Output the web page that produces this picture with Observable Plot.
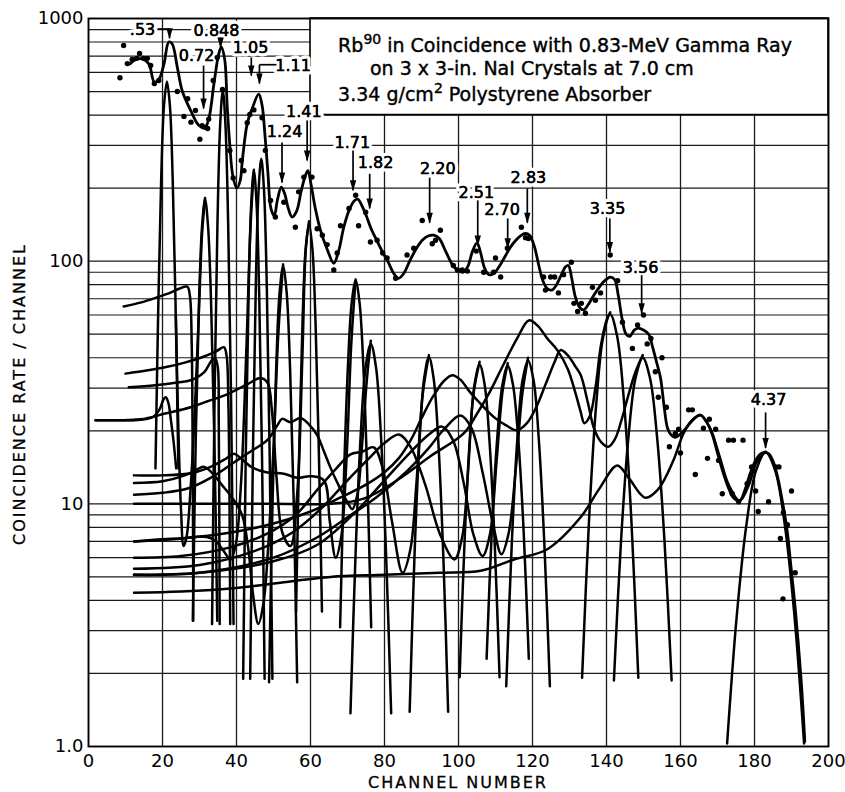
<!DOCTYPE html>
<html><head><meta charset="utf-8">
<script src="https://cdn.jsdelivr.net/npm/d3@7"></script>
<script src="https://cdn.jsdelivr.net/npm/@observablehq/plot@0.6"></script>
<style>
html,body{margin:0;padding:0;background:#fff;}
#chart{width:845px;height:792px;}
</style></head><body><div id="chart"></div>
<script>
// ---------- axes / grid ----------
const xTicks = [0, 20, 40, 60, 80, 100, 120, 140, 160, 180, 200];
const xGrid = [20, 40, 60, 80, 100, 120, 140, 160, 180];
const yTicks = [1, 10, 100, 1000];
const yTickText = ["1.0", "10", "100", "1000"];
const yGrid = [1,2,3,4,5,6,7,8,9,10,20,30,40,50,60,70,80,90,100,200,300,400,500,600,700,800,900,1000];

// ---------- measured points (channel, coincidence rate) ----------
const measured = [[8.5,570],[9.5,774],[10.5,652],[11.8,678],[13.0,685],[13.8,718],[14.9,685],[15.9,685],[16.8,640],[17.8,540],[19.0,555],
[24.0,500],[25.8,395],[26.8,467],[27.7,374],[28.9,418],[30.1,318],[30.7,362],[31.6,356],[32.2,352],[32.5,385],[33.7,555],[34.8,691],
[36.2,510],[38.2,286],[39.1,220],[41.3,260],[42.0,236],[42.9,372],[43.6,402],[44.7,420],[46.9,390],[47.8,286],[49.2,178],[50.5,152],
[52.8,175],[55.9,138],[56.8,193],[58.2,222],[60.4,222],[61.8,136],[63.2,128],[64.5,117],[66.3,92],[67.2,108],[68.1,140],[70.4,165],[72.2,187],[73,140],[74.9,159],[76.2,120],[78,122],[79.5,108],[80.7,103],[83,85],[86.1,106],[87.9,113],[90.2,147],[92.9,118],[93.8,122],[95.1,134],[98.6,96],[99.7,92],[101,92],[102.4,91],[104.8,110],[106.8,90],[109.5,90],[110,103],[111.4,86],[113.2,113],[117,138],[118.1,125],[118.9,124],[123,86],[123.5,76],[124.9,86],[126,86],[127,74],[128.4,88],[130.5,99],[131.2,67],[132.2,62],[133.2,67],[134.3,61],[136.2,78],[137,69],[138.4,74],[141,106],[143,83],[144.3,56],[147,43.7],[148.4,54.6],[150,60],[151,45.6],[152,48],[153.2,35],[154,27.5],[155,40],[156.2,25],[157,17.2],[158.6,19.5],[159.5,20.3],[160,16.2],[162.2,24.4],[163.2,24.4],[164,13.2],[166.2,20.5],[167.3,15.4],[167.8,22.3],[169.5,20.3],[170.3,15.1],[171.3,11],[173,18.3],[174.3,18.3],[176.9,18.3],[174,11],[175.7,10.2],[178,12.1],[179.2,14.2],[180.3,11.3],[181,9.3],[183.8,10.2],[185.7,14.2],[186.6,14.2],[187.8,9.2],[188.9,8.2],[187,7.2],[190,11.3],[191,5.2],[187.7,4.06]];

// ---------- fitted total spectrum ----------
const fitted = [[11.2,650],[12.7,676],[14.5,682],[16.3,650],[17.8,547],[19,560],[20.4,650],[21.7,800],[22.6,787],[24,630],[25.3,505],[27.6,418],[29.8,363],[31.4,354],[32.5,385],[33.9,538],[35.2,715],[35.9,762],[36.8,680],[37.5,430],[38.2,300],[39,225],[40.1,200],[41,215],[41.6,262],[42.9,369],[44.2,424],[46,488],[46.9,440],[47.7,330],[48.5,230],[49.3,165],[50.2,154],[51.1,180],[52.1,202],[53,190],[54,165],[55,152],[56.2,160],[57.5,195],[58.6,225],[59.3,236],[60.2,205],[61.3,165],[62.7,134],[64.5,112],[66.3,98],[67.6,110],[69,138],[70.5,163],[71.8,177],[72.8,180],[74,168],[75,155],[76.3,137],[78,121],[79.5,109],[81,99],[82.5,89],[83.8,85],[85.2,89],[86.8,100],[88.5,112],[90.2,122],[91.8,127],[93.3,128],[94.8,124],[96.5,110],[98.3,97],[99.7,92],[101.2,90],[102.5,95],[103.8,110],[105,119],[106,108],[107,94],[108.2,88],[109.5,89],[111,95],[112.5,104],[114,114],[115.5,122],[117,128],[118,130],[119.2,128],[120.5,115],[121.7,96],[122.8,83],[124,77],[125.2,76],[126.5,80],[127.8,88],[129,95],[129.7,96],[130.6,85],[131.5,72],[132.6,65],[133.8,63],[135,66],[136.5,72],[138,78],[139.5,83],[141,86],[142.2,84],[143.2,72],[144.2,58],[145.3,50],[146.3,49],[147.5,52],[148.6,53],[150,52],[151.4,50],[152.5,44],[153.6,38],[154.6,33],[155.6,25],[156.5,20.5],[157.5,19.2],[158.6,18.8],[160,19.4],[161.5,20.5],[163.5,22.3],[165.4,23.2],[167,21.8],[168.5,19.5],[170,16.2],[171.5,13.5],[173,11.6],[174.3,10.6],[176,10.3],[177.5,11.5],[178.8,13.3],[180.2,15],[181.5,16],[182.6,16.3],[183.8,16.1],[185,15],[186.3,12.8],[187.5,10.3],[188.8,7.8],[189.7,5.8],[190.8,4.0],[191.8,2.7],[192.8,1.7],[193.6,1.05]];

// ---------- photopeak components ----------
const peak053 = [[18.1,14],[18.9,70],[19.65,220],[20.4,437],[21.2,550],[22.0,437],[22.75,220],[23.5,70],[24.3,14]];
const peak072 = [[28.2,3.3],[29.0,19],[29.85,66],[30.7,140],[31.5,180],[32.3,140],[33.15,66],[34.0,19],[34.8,3.3]];
const peak0848 = [[33.4,3.2],[34.1,29.4],[34.85,142],[35.6,368],[36.3,505],[37.0,368],[37.75,142],[38.5,29.4],[39.2,3.2]];
const peak105 = [[41.8,1.9],[42.5,15.7],[43.25,70.7],[44.0,175],[44.7,236],[45.4,175],[46.15,70.7],[46.9,15.7],[47.6,1.9]];
const peak111 = [[43.7,1.9],[44.45,16.5],[45.2,77],[45.95,194],[46.7,264],[47.45,194],[48.2,77],[48.95,16.5],[49.7,1.9]];
const peak124 = [[48.8,1.84],[49.75,10.3],[50.7,35.4],[51.65,74.3],[52.6,95],[53.55,74.3],[54.5,35.4],[55.45,10.3],[56.4,1.84]];
const peak141 = [[56.1,3.6],[57.0,18],[57.85,56.7],[58.7,113],[59.6,142],[60.5,113],[61.35,56.7],[62.2,18],[63.1,3.6]];
const peak171 = [[68.0,3.1],[69.05,13],[70.1,36.5],[71.15,67.6],[72.2,83],[73.25,67.6],[74.3,36.5],[75.35,13],[76.4,3.1]];
const peak182 = [[70.8,1.37],[72.2,6.35],[73.55,19],[74.9,36.6],[76.3,45.6],[77.7,36.6],[79.05,19],[80.4,6.35],[81.8,1.37]];
const peak220 = [[86.8,1.39],[88.1,6.07],[89.4,17.4],[90.7,32.7],[92,40.3],[93.3,32.7],[94.6,17.4],[95.9,6.07],[97.2,1.39]];
const peak251 = [[100.3,1.93],[101.65,7.07],[103,17.9],[104.35,31.1],[105.7,37.5],[107.05,31.1],[108.4,17.9],[109.75,7.07],[111.1,1.93]];
const peak270 = [[107.6,2.3],[109.0,7.75],[110.45,18.5],[111.9,31.1],[113.3,37],[114.7,31.1],[116.15,18.5],[117.6,7.75],[119,2.3]];
const peak283 = [[112.9,1.77],[114.4,6.85],[115.85,18],[117.3,32.2],[118.8,39],[120.3,32.2],[121.75,18],[123.2,6.85],[124.7,1.77]];
const peak335 = [[133.4,1.92],[135.3,8.69],[137.2,25.5],[139.1,48.8],[141,60.5],[142.9,48.8],[144.8,25.5],[146.7,8.69],[148.6,1.92]];
const peak356 = [[142,1.87],[143.95,7.14],[145.9,18.6],[147.85,33],[149.8,40],[151.75,33],[153.7,18.6],[155.65,7.14],[157.6,1.87]];
const peak437 = [[172.6,1.03],[175.2,3.45],[177.8,8.17],[180.4,13.7],[183,16.3],[185.6,13.7],[188.2,8.17],[190.8,3.45],[193.4,1.03]];

// ---------- Compton continua / line shapes ----------
const shape0848 = [[9.5,65],[14,67.5],[18.6,71],[22,74],[24.5,77],[26.7,78.5],[27.4,72],[27.9,45],[28.1,22],[28.25,8],[28.3,3.3]];
const shape111 = [[10,34.4],[16,35.5],[21.3,36.7],[26,38.2],[30.3,40],[34.5,42.5],[36.6,44.2],[37.3,41],[37.8,26],[38.1,11],[38.3,3.2]];
const shape105 = [[10.9,30.2],[18,30.8],[24,31.6],[27.6,32.3],[31.2,34.8],[33.3,39],[34.2,39.7],[34.9,37],[35.2,22],[35.35,9],[35.45,3.2]];
const shape141 = [[1.9,22.1],[8,22.1],[14.1,22.3],[21,23.6],[27.6,25],[32,26.4],[36.6,27.9],[42.9,31.1],[46.5,33],[48.4,31.5],[49.6,24],[50.8,13],[52.4,7.6],[54.6,6.7],[56.4,11],[57.8,40],[58.7,110],[59.6,146]];
const shapeAnn = [[1.9,22.1],[10,22.1],[14.1,22.2],[17.5,22.8],[19.2,24.5],[20.3,27],[20.9,27.5],[21.6,26],[22.3,22],[23,18],[23.7,14]];
const shape072 = [[23.6,60],[24.3,20],[25,9.5],[25.7,6.7],[26.5,7.3],[27.5,11],[28.6,22],[29.8,60],[30.7,130],[31.5,182]];
const shape105b = [[12.3,7.0],[20,7.15],[25,7.2],[29,7.3],[32,7.3],[34.5,7],[36.5,6.4],[38.4,5.9],[39.8,6.8],[41.2,12],[42.7,45],[43.8,140],[44.7,238]];
const shape124 = [[12.3,12.2],[20,12.4],[26,13.1],[29.5,13.9],[31.2,14.2],[33,13.6],[36,12],[39,10.5],[41.5,9],[43.2,6.5],[44.5,4.2],[45.9,3.2],[47.3,3.9],[48.6,6.8],[50,17],[51.3,50],[52.6,97]];
const shape171 = [[12.3,13.1],[20,13.1],[28,13.4],[33,14.2],[37,15.3],[39.3,16.1],[41,15.5],[44,14.2],[48,13.5],[52.8,13.3],[56.5,12.8],[60,13],[63.6,12.5],[65.2,8.5],[66.8,6],[68.3,7.3],[69.8,16],[71,45],[72.2,84]];
const shape182 = [[12.3,10.9],[20,11.1],[27,11.6],[33,12.8],[39.3,14.8],[44,16.5],[48.3,18.3],[51,21],[52.3,22.4],[54.6,21.7],[57.3,22.6],[59.5,21.3],[61.8,19.2],[63.6,16.5],[65.4,14.1],[67.5,12],[69.9,10.2],[71.3,9.5],[72.7,11],[74,18],[75.2,32],[76.3,47]];
const shape220 = [[12.3,6.0],[25,6.1],[38,6.6],[48,7.5],[56,9],[62,11.5],[67,14],[70.8,16],[74,16.4],[77.1,17.1],[79.5,14],[82,8.5],[84.9,5.2],[87,6.5],[88.6,12],[90.3,28],[92,41]];
const shape251 = [[12.3,5.4],[30,5.6],[45,6.4],[55,7.6],[63,9.6],[70,12.5],[76,15.5],[80,17.8],[83.9,19.3],[87,17.2],[91,12],[95,7.5],[98.9,5.9],[101,7.3],[102.5,13],[104,28],[105.7,38.5]];
const shape270 = [[12.3,5.1],[30,5.2],[50,5.8],[62,6.8],[72,9.2],[80,12.5],[87,16.3],[92,19.3],[95.6,20.8],[98.5,18.3],[101.5,12],[104,7.5],[106.5,6.1],[108.5,7.5],[110.3,15],[111.9,29],[113.3,38]];
const shape283 = [[12.3,5.1],[30,5.2],[50,6.0],[62,7.3],[70,8.8],[78,10.7],[86,13.6],[92,17],[96,20.2],[100.5,23.1],[103.5,20.5],[106.5,13.5],[109.5,8],[111.6,6.2],[113.5,7.5],[115.5,14],[117.2,28],[118.8,40]];
const shape335 = [[12.3,10],[30,10],[50,10],[65.4,10],[74.4,10.5],[83.4,12.5],[92.4,15.7],[101.4,19.5],[105,23.5],[108.5,29],[112.2,37.6],[116,48.5],[119,57],[121.5,54],[124,48],[126.7,43],[129.5,36],[131.5,29],[133,24],[134,21.5],[135.5,23],[137,30],[138.5,45],[140,57],[141,61.5]];
const shape356 = [[12.3,7.0],[25,7.2],[38,7.6],[50,8.3],[60,9.3],[68,10.6],[75,12],[80,13.5],[84,15.5],[87,18.2],[90,22.5],[93,27.5],[96,32],[98.3,33.9],[100.5,32.5],[103,29],[106,25.8],[110,22.5],[113,21],[115.8,20.1],[118.5,21.5],[121,25],[123.5,31],[126,38.5],[127.6,43],[129.5,41],[131.5,37],[133,34],[135,26],[136.6,20.5],[138.5,18],[140.5,17.2],[142.3,18.5],[144,22],[145.9,28],[147.85,35],[149.8,41]];
const shape437 = [[12.3,4.3],[25,4.35],[40,4.5],[55,4.8],[65.4,5.0],[80,5.1],[95,5.2],[106,5.3],[115,5.9],[124,6.5],[133,8.8],[138,11.5],[142.9,14.4],[146,12.8],[150.5,10.6],[154,11.5],[158,15],[160.8,19.5],[163,22],[165.4,23.2],[168,20.5],[170.5,15.8],[173,12],[176,10.3],[178.5,12],[180.5,14.8],[183,16.4]];

// ---------- energy labels (MeV) ----------
const peakEnergy = [".53","0.72","0.848","1.05","1.11","1.24","1.41","1.71","1.82","2.20","2.51","2.70","2.83","3.35","3.56","4.37"];
const labelChannel = [14.6, 29.2, 34.6, 43.8, 55.3, 53.0, 58.2, 71.3, 77.6, 94.4, 104.8, 111.8, 118.9, 140.3, 149.2, 183.8];
const labelRate = [901, 704, 892, 756, 640, 342, 414, 307, 255, 239, 191, 163, 221, 164, 94, 26.7];
const arrowChannel = [21.9, 31.1, 35.7, 44.0, 46.2, 52.3, 59.1, 71.5, 76.0, 92.2, 105.2, 113.3, 118.6, 140.9, 149.5, 183.0];
const arrowTop = [905, 640, 835, 691, 645, 308, 380, 286, 229, 221, 178, 150, 199, 150, 87.5, 23.8];
const arrowTip = [830, 426, 760, 582, 540, 211, 260, 196, 165, 144, 116, 113, 144, 109, 61, 17];
const bracketFrom = [18.7, 50.8];
const bracketTo = [21.9, 46.2];
const bracketRate = [905, 645];

// ---------- build tables ----------
const curves = {peak053, peak072, peak0848, peak105, peak111, peak124, peak141, peak171, peak182, peak220, peak251, peak270, peak283, peak335, peak356, peak437,
  shape0848, shape111, shape105, shape141, shapeAnn, shape072, shape105b, shape124, shape171, shape182, shape220, shape251, shape270, shape283, shape335, shape356, shape437};
const curveRows = Object.entries(curves).flatMap(([id, pts]) => pts.map(([ch, rate]) => ({id, ch, rate})));
const labelRows = peakEnergy.map((t, i) => ({text: t, x: labelChannel[i], y: labelRate[i]}));
const arrowRows = peakEnergy.map((t, i) => ({x: arrowChannel[i], top: arrowTop[i], tip: arrowTip[i]}));
const bracketRows = bracketFrom.map((v, i) => ({x1: v, x2: bracketTo[i], y: bracketRate[i]}));

const arrowHead = {draw(ctx) { ctx.moveTo(0, 1); ctx.lineTo(-3.2, -10); ctx.lineTo(3.2, -10); ctx.closePath(); }};

const chart = Plot.plot({
  width: 845, height: 792,
  marginLeft: 88, marginRight: 17, marginTop: 18, marginBottom: 46,
  style: {fontFamily: "'DejaVu Sans', sans-serif", fontSize: "18px", background: "white", color: "black"},
  x: {domain: [0, 200], ticks: xTicks, tickFormat: d => String(d), tickSize: 0, tickPadding: 8, label: null},
  y: {type: "log", domain: [1, 1000], ticks: yTicks, tickFormat: d => yTickText[yTicks.indexOf(d)], tickSize: 0, tickPadding: 5, label: null},
  marks: [
    Plot.ruleY(yGrid, {stroke: "#1a1a1a", strokeWidth: 1.2}),
    Plot.ruleX(xGrid, {stroke: "#1a1a1a", strokeWidth: 1.3}),
    Plot.rect([0], {x1: 60, x2: 200, y1: 400, y2: 1000, fill: "white", stroke: "black", strokeWidth: 1.6}),
    Plot.text(labelRows, {x: "x", y: "y", text: "text", fontSize: 16, fill: "black", stroke: "white", strokeWidth: 7, paintOrder: "stroke"}),
    Plot.text(labelRows, {x: "x", y: "y", text: "text", fontSize: 16, fill: "black", stroke: "black", strokeWidth: 0.4}),
    Plot.line(curveRows, {x: "ch", y: "rate", z: "id", curve: "catmull-rom", stroke: "black", strokeWidth: 2.5, clip: true}),
    Plot.line(fitted, {x: d => d[0], y: d => d[1], curve: "catmull-rom", stroke: "black", strokeWidth: 2.8, clip: true}),
    Plot.dot(measured, {x: d => d[0], y: d => d[1], r: 2.7, fill: "black", stroke: "none"}),
    Plot.link(arrowRows, {x1: "x", x2: "x", y1: "top", y2: "tip", stroke: "black", strokeWidth: 1.7}),
    Plot.dot(arrowRows, {x: "x", y: "tip", symbol: arrowHead, fill: "black", stroke: "none", r: 4}),
    Plot.link(bracketRows, {x1: "x1", x2: "x2", y1: "y", y2: "y", stroke: "black", strokeWidth: 1.7}),
    Plot.frame({stroke: "black", strokeWidth: 1.9})
  ]
});
document.getElementById("chart").appendChild(chart);

// ---------- titles ----------
const sx = chart.scale("x"), sy = chart.scale("y");
const X = v => sx.apply(v), Y = v => sy.apply(v);
const svg = d3.select(chart);
const title = svg.append("g").attr("font-family", "'DejaVu Sans', sans-serif").attr("font-size", 19)
  .attr("fill", "black").attr("stroke", "black").attr("stroke-width", 0.4).attr("text-anchor", "start");
const t1 = title.append("text").attr("x", X(67.6)).attr("y", Y(726));
t1.append("tspan").text("Rb");
t1.append("tspan").attr("dy", -8).attr("font-size", 14).text("90");
t1.append("tspan").attr("dy", 8).text(" in Coincidence with 0.83-MeV Gamma Ray");
title.append("text").attr("x", X(76.2)).attr("y", Y(580)).text("on 3 x 3-in. NaI Crystals at 7.0 cm");
const t3 = title.append("text").attr("x", X(67.6)).attr("y", Y(455));
t3.append("tspan").text("3.34 g/cm");
t3.append("tspan").attr("dy", -8).attr("font-size", 14).text("2");
t3.append("tspan").attr("dy", 8).text(" Polystyrene Absorber");

svg.append("text").attr("x", X(100)).attr("y", Y(1) + 42).attr("text-anchor", "middle")
  .attr("font-family", "'DejaVu Sans', sans-serif").attr("font-size", 16).attr("letter-spacing", 2)
  .attr("stroke", "black").attr("stroke-width", 0.3).text("CHANNEL NUMBER");
svg.append("text").attr("transform", `translate(25,${(Y(1) + Y(1000)) / 2 + 12}) rotate(-90)`).attr("text-anchor", "middle")
  .attr("font-family", "'DejaVu Sans', sans-serif").attr("font-size", 16).attr("letter-spacing", 2)
  .attr("stroke", "black").attr("stroke-width", 0.3).text("COINCIDENCE RATE / CHANNEL");
</script></body></html>
